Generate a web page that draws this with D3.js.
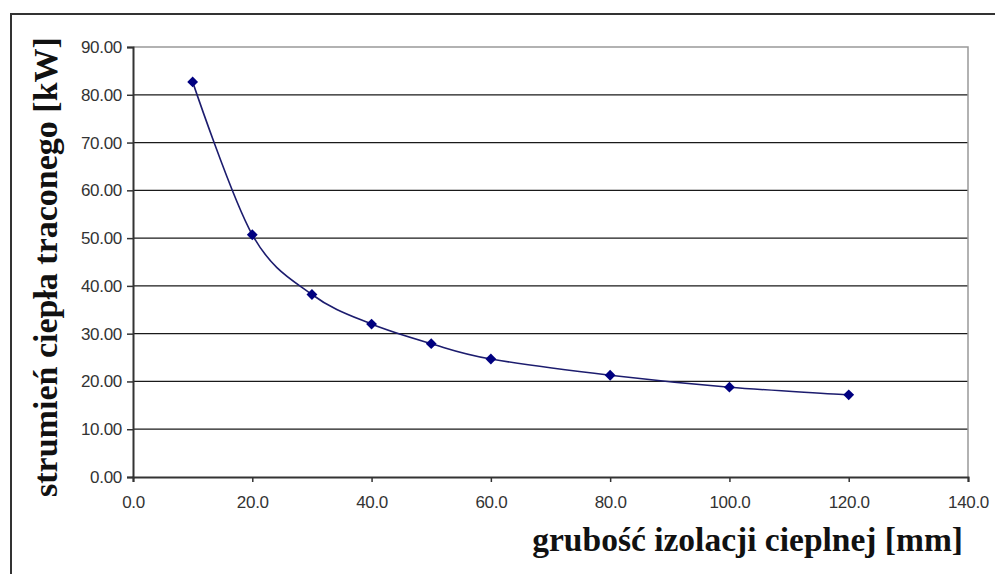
<!DOCTYPE html>
<html>
<head>
<meta charset="utf-8">
<script src="https://cdn.jsdelivr.net/npm/d3@7"></script>
<style>
  html, body { margin: 0; padding: 0; background: #fff; }
  svg { display: block; }
</style>
</head>
<body>
<svg id="chart" width="995" height="574"></svg>
<script>
// dane
const thickness = [10, 20, 30, 40, 50, 60, 80, 100, 120];
const heatLoss = [82.7, 50.7, 38.2, 32.0, 27.9, 24.7, 21.3, 18.8, 17.2];
const xTicks = [0, 20, 40, 60, 80, 100, 120, 140];
const yTicks = [0, 10, 20, 30, 40, 50, 60, 70, 80, 90];
const xTitle = 'grubość izolacji cieplnej [mm]';
const yTitle = 'strumień ciepła traconego [kW]';

const svg = d3.select('#chart');

const plot = { left: 133, top: 47, right: 968, bottom: 477 };

const x = d3.scaleLinear().domain([0, 140]).range([plot.left, plot.right]);
const y = d3.scaleLinear().domain([0, 90]).range([plot.bottom, plot.top]);

// ramka zewnętrzna (lewa i górna krawędź)
svg.append('path')
    .attr('d', 'M11,574 V14 H995')
    .attr('fill', 'none')
    .attr('stroke', '#333')
    .attr('stroke-width', 2);

// linie siatki
svg.append('g')
    .selectAll('line')
    .data(yTicks.filter(d => d > 0 && d < 90))
    .join('line')
    .attr('x1', plot.left)
    .attr('x2', plot.right)
    .attr('y1', d => y(d))
    .attr('y2', d => y(d))
    .attr('stroke', '#1a1a1a')
    .attr('stroke-width', 1.3);

// górna i prawa krawędź obszaru wykresu
svg.append('path')
    .attr('d', `M${plot.left},${plot.top} H${plot.right} V${plot.bottom}`)
    .attr('fill', 'none')
    .attr('stroke', '#999')
    .attr('stroke-width', 1.5);

// osie
const yAxis = svg.append('g')
    .attr('transform', `translate(${plot.left},0)`)
    .call(d3.axisLeft(y).tickValues(yTicks).tickFormat(d3.format('.2f')).tickSize(6).tickPadding(5));

const xAxis = svg.append('g')
    .attr('transform', `translate(0,${plot.bottom})`)
    .call(d3.axisBottom(x).tickValues(xTicks).tickFormat(d3.format('.1f')).tickSize(5).tickPadding(14));

[yAxis, xAxis].forEach(function (ax) {
    ax.select('.domain').attr('stroke', '#333').attr('stroke-width', 2);
    ax.selectAll('.tick line').attr('stroke', '#333').attr('stroke-width', 1.5);
    ax.selectAll('.tick text')
        .attr('fill', '#333')
        .style('font-family', '"Liberation Sans", Arial, sans-serif')
        .style('font-size', '17px')
        .style('letter-spacing', '-0.3px');
});

// linia wygładzona
const pts = thickness.map((t, i) => [t, heatLoss[i]]);
const line = d3.line()
    .x(d => x(d[0]))
    .y(d => y(d[1]))
    .curve(d3.curveCardinal.tension(0));

svg.append('path')
    .attr('d', line(pts))
    .attr('fill', 'none')
    .attr('stroke', '#1c1c6e')
    .attr('stroke-width', 1.6);

// znaczniki (romby)
svg.append('g')
    .selectAll('path')
    .data(pts)
    .join('path')
    .attr('d', d3.symbol().type(d3.symbolDiamond2).size(75))
    .attr('transform', d => `translate(${x(d[0])},${y(d[1])})`)
    .attr('fill', '#000080');

// tytuły osi
svg.append('text')
    .attr('transform', 'translate(57,267) rotate(-90)')
    .attr('text-anchor', 'middle')
    .style('font-family', '"Liberation Serif", "Times New Roman", serif')
    .style('font-weight', 'bold')
    .style('font-size', '34px')
    .attr('fill', '#111')
    .text(yTitle);

svg.append('text')
    .attr('x', 963)
    .attr('y', 551)
    .attr('text-anchor', 'end')
    .style('font-family', '"Liberation Serif", "Times New Roman", serif')
    .style('font-weight', 'bold')
    .style('font-size', '33.5px')
    .attr('fill', '#111')
    .text(xTitle);
</script>
</body>
</html>
